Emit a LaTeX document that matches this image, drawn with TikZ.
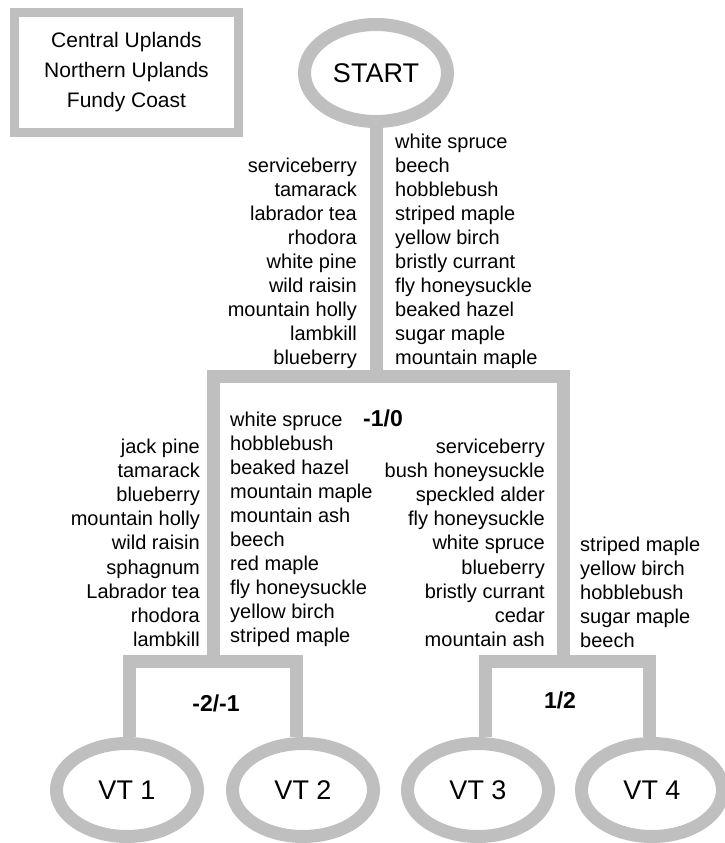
\documentclass[tikz,border=0pt]{standalone}
\usepackage{fontspec}
\setmainfont{Liberation Sans}
\usepackage{tikz}
\usetikzlibrary{shapes.geometric}

\definecolor{branchgray}{RGB}{191,191,191}

\tikzset{
  branch/.style={draw=branchgray, line width=13pt},
  vtnode/.style={ellipse, draw=branchgray, line width=13pt,
    minimum width=141pt, minimum height=93pt, inner sep=0pt,
    font=\fontsize{27}{30}\selectfont},
  species/.style={inner sep=0pt, font=\fontsize{20}{24}\selectfont},
  score/.style={inner sep=0pt, font=\fontsize{23}{26}\selectfont\bfseries}
}

\begin{document}
\begin{tikzpicture}[x=1pt, y=-1pt]
  \useasboundingbox (0,0) rectangle (725,843);

  % regions
  \node[draw=branchgray, line width=9pt, minimum width=224pt, minimum height=120pt,
        align=center, font=\fontsize{21}{30}\selectfont]
    (region) at (126.5,72.5) {Central Uplands\\Northern Uplands\\Fundy Coast};

  % start and vegetation types
  \node[vtnode, minimum width=143pt, minimum height=97pt] (start) at (376,73) {START};
  \node[vtnode] (vt1) at (127,790) {VT 1};
  \node[vtnode] (vt2) at (303,790) {VT 2};
  \node[vtnode] (vt3) at (478,790) {VT 3};
  \node[vtnode] (vt4) at (652,790) {VT 4};

  % branches
  \coordinate (hub) at (376,376);
  \coordinate (lcorner) at (213,376);
  \coordinate (rcorner) at (563,376);
  \coordinate (lfork) at (213,661);
  \coordinate (rfork) at (563,661);
  \coordinate (llfork) at (129.5,661);
  \coordinate (lrfork) at (296.5,661);
  \coordinate (rlfork) at (485,661);
  \coordinate (rrfork) at (649,661);
  \draw[branch] (start) -- (hub);
  \draw[branch] (lfork) -- (lcorner) -- (rcorner) -- (rfork);
  \draw[branch] (llfork |- vt1.north) -- (llfork) -- (lrfork) -- (lrfork |- vt2.north);
  \draw[branch] (rlfork |- vt3.north) -- (rlfork) -- (rrfork) -- (rrfork |- vt4.north);

  % scores
  \node[score, anchor=base west] (s0) at (363,426) {-1/0};
  \node[score, anchor=base] (s1) at (216,711) {-2/-1};
  \node[score, anchor=base] (s2) at (560,708) {1/2};

  % species lists
  \foreach \sp [count=\i] in {serviceberry, tamarack, labrador tea, rhodora,
      white pine, wild raisin, mountain holly, lambkill, blueberry}
    \node[species, anchor=base east] (topl\i) at (357,{172+24.1*(\i-1)}) {\sp};
  \foreach \sp [count=\i] in {white spruce, beech, hobblebush, striped maple,
      yellow birch, bristly currant, fly honeysuckle, beaked hazel, sugar maple,
      mountain maple}
    \node[species, anchor=base west] (topr\i) at (395,{148+24.1*(\i-1)}) {\sp};
  \foreach \sp [count=\i] in {jack pine, tamarack, blueberry, mountain holly,
      wild raisin, sphagnum, Labrador tea, rhodora, lambkill}
    \node[species, anchor=base east] (outl\i) at (200,{453+24.2*(\i-1)}) {\sp};
  \foreach \sp [count=\i] in {white spruce, hobblebush, beaked hazel, mountain maple,
      mountain ash, beech, red maple, fly honeysuckle, yellow birch, striped maple}
    \node[species, anchor=base west] (inl\i) at (230,{426+24.1*(\i-1)}) {\sp};
  \foreach \sp [count=\i] in {serviceberry, bush honeysuckle, speckled alder,
      fly honeysuckle, white spruce, blueberry, bristly currant, cedar, mountain ash}
    \node[species, anchor=base east] (inr\i) at (545,{453+24.2*(\i-1)}) {\sp};
  \foreach \sp [count=\i] in {striped maple, yellow birch, hobblebush, sugar maple, beech}
    \node[species, anchor=base west] (outr\i) at (580,{551+24.1*(\i-1)}) {\sp};
\end{tikzpicture}
\end{document}
